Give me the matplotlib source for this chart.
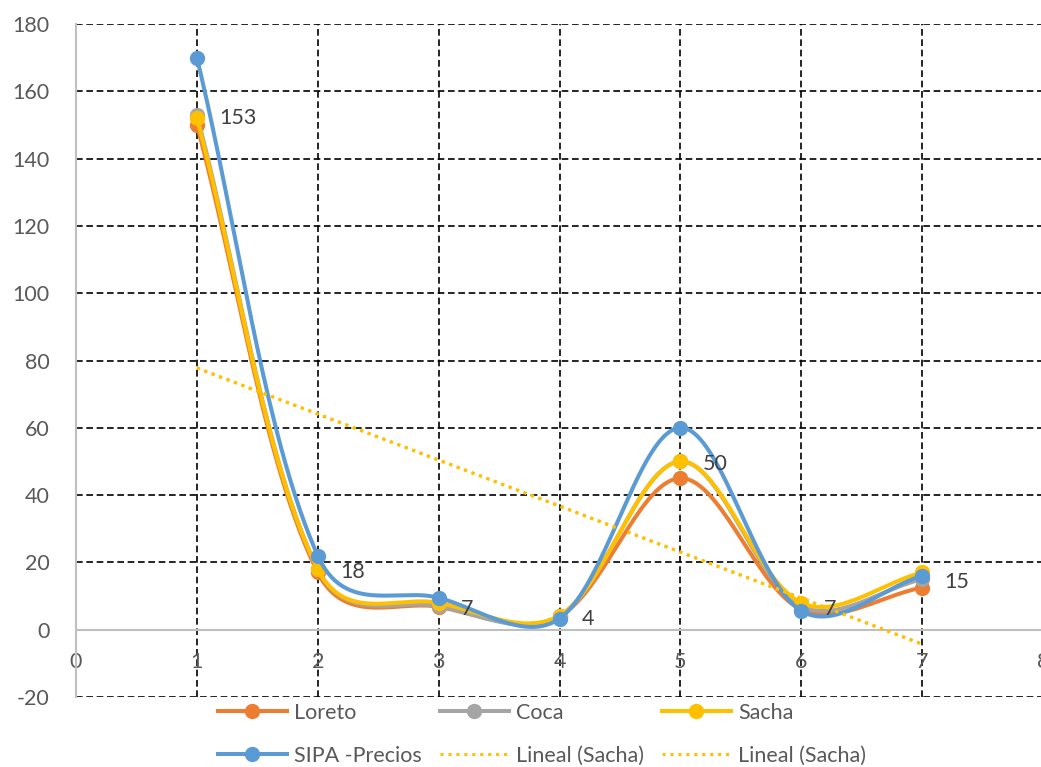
import numpy as np
import matplotlib
matplotlib.use('Agg')
import matplotlib.pyplot as plt
from matplotlib.lines import Line2D

plt.rcParams['font.family'] = ['Lato', 'DejaVu Sans']

# ---------------- data ----------------
x_vals = [1, 2, 3, 4, 5, 6, 7]
loreto = [150, 17, 6.8, 4, 45, 6, 12.5]
coca = [153, 18, 7, 4, 50, 7, 15]
sacha = [152, 18, 8, 4.2, 50, 8, 17]
sipa = [170, 22, 9.5, 3.3, 60, 5.6, 16]
coca_labels = ['153', '18', '7', '4', '50', '7', '15']
series_names = ['Loreto', 'Coca', 'Sacha', 'SIPA -Precios']
trend_name = 'Lineal (Sacha)'
x_ticks = list(range(0, 9))
y_ticks = list(range(-20, 181, 20))

colors = {'Loreto': '#ED7D31', 'Coca': '#A5A5A5', 'Sacha': '#FFC000',
          'SIPA -Precios': '#5B9BD5'}
TXT = '#595959'

fig = plt.figure(figsize=(10.41, 7.67), dpi=100)
ax = fig.add_axes([76 / 1041, 1 - 697 / 767, 967 / 1041, 673 / 767])
ax.set_xlim(0, 8)
ax.set_ylim(-20, 180)


def smooth(xs, ys, n=60):
    """Excel-like smoothed line: Bezier with distance-weighted control points
    (distances measured in display space)."""
    P = ax.transData.transform(np.column_stack([xs, ys]).astype(float))
    ext = np.vstack([P[0], P, P[-1]])
    t = np.linspace(0, 1, n)[:, None]
    out = []
    f = 1.0 / 3.0
    for i in range(len(P) - 1):
        p0, p1, p2, p3 = ext[i], ext[i + 1], ext[i + 2], ext[i + 3]
        d01 = np.hypot(*(p1 - p0)) ** 0.5
        d12 = np.hypot(*(p2 - p1)) ** 0.5
        d23 = np.hypot(*(p3 - p2)) ** 0.5
        a = d12 / (d01 + d12) if d01 + d12 > 0 else 0
        b = d12 / (d12 + d23) if d12 + d23 > 0 else 0
        c1 = p1 + (p2 - p0) * f * a
        c2 = p2 - (p3 - p1) * f * b
        seg = ((1 - t) ** 3) * p1 + 3 * ((1 - t) ** 2) * t * c1 \
            + 3 * (1 - t) * (t ** 2) * c2 + (t ** 3) * p2
        out.append(seg if i == 0 else seg[1:])
    pts = np.vstack(out)
    return ax.transData.inverted().transform(pts)


# grid
grid_kw = dict(color='black', lw=1.2, ls=(0, (4, 2.2)), zorder=1)
for yv in y_ticks:
    if yv != 0:
        ax.axhline(yv, **grid_kw)
for xv in x_ticks:
    if 0 < xv < 8:
        ax.axvline(xv, **grid_kw)

ax.axhline(0, color='#BFBFBF', lw=1.5, zorder=1.5)

for s in ['top', 'right', 'bottom']:
    ax.spines[s].set_visible(False)
ax.spines['left'].set_color('#BFBFBF')
ax.spines['left'].set_linewidth(1.5)

ax.set_yticks(y_ticks)
ax.set_yticklabels([str(v) for v in y_ticks])
ax.set_xticks(x_ticks)
ax.set_xticklabels([str(v) for v in x_ticks])
ax.tick_params(axis='y', length=0, pad=19, labelsize=15.5, labelcolor=TXT)
ax.xaxis.set_ticks_position('bottom')
ax.spines['bottom'].set_position(('data', 0))
ax.tick_params(axis='x', length=0, pad=16, labelsize=15.5, labelcolor=TXT)

handles = {}
data = {'Loreto': loreto, 'Coca': coca, 'Sacha': sacha, 'SIPA -Precios': sipa}
for i, name in enumerate(series_names):
    ys = data[name]
    c = colors[name]
    curve = smooth(x_vals, ys)
    ax.plot(curve[:, 0], curve[:, 1], color=c, lw=2.9, zorder=3 + i,
            solid_capstyle='round')
    ax.plot(x_vals, ys, ls='none', marker='o', ms=10, color=c, zorder=3 + i)
    handles[name] = Line2D([], [], color=c, lw=2.9, marker='o', ms=10)

# trendlines (linear fit of Sacha), two identical entries
coef = np.polyfit(x_vals, sacha, 1)
xt = np.array([x_vals[0], x_vals[-1]])
for k in range(2):
    ax.plot(xt, np.polyval(coef, xt), color='#FFC000', lw=2.2,
            ls=(0, (1, 1.6)), zorder=8)
trend_handle = Line2D([], [], color='#FFC000', lw=2.2, ls=(0, (1, 1.6)))

# data labels (Coca)
for xv, yv, lab in zip(x_vals, coca, coca_labels):
    ax.annotate(lab, (xv, yv), xytext=(16, -2), textcoords='offset points',
                ha='left', va='center', fontsize=15.5, color='#404040',
                zorder=10)

# legend (row-major order for 3 columns)
order_h = [handles['Loreto'], handles['SIPA -Precios'], handles['Coca'],
           trend_handle, handles['Sacha'], trend_handle]
order_l = ['Loreto', 'SIPA -Precios', 'Coca', trend_name, 'Sacha', trend_name]
leg = fig.legend(order_h, order_l, ncol=3, loc='upper left',
                 bbox_to_anchor=(218 / 1041, 1 - 703 / 767),
                 frameon=False, fontsize=15.5, handlelength=3.2,
                 handletextpad=0.35, columnspacing=0.82, labelspacing=1.06,
                 borderpad=0, borderaxespad=0)
for t in leg.get_texts():
    t.set_color(TXT)

fig.savefig('out.png', dpi=100)
